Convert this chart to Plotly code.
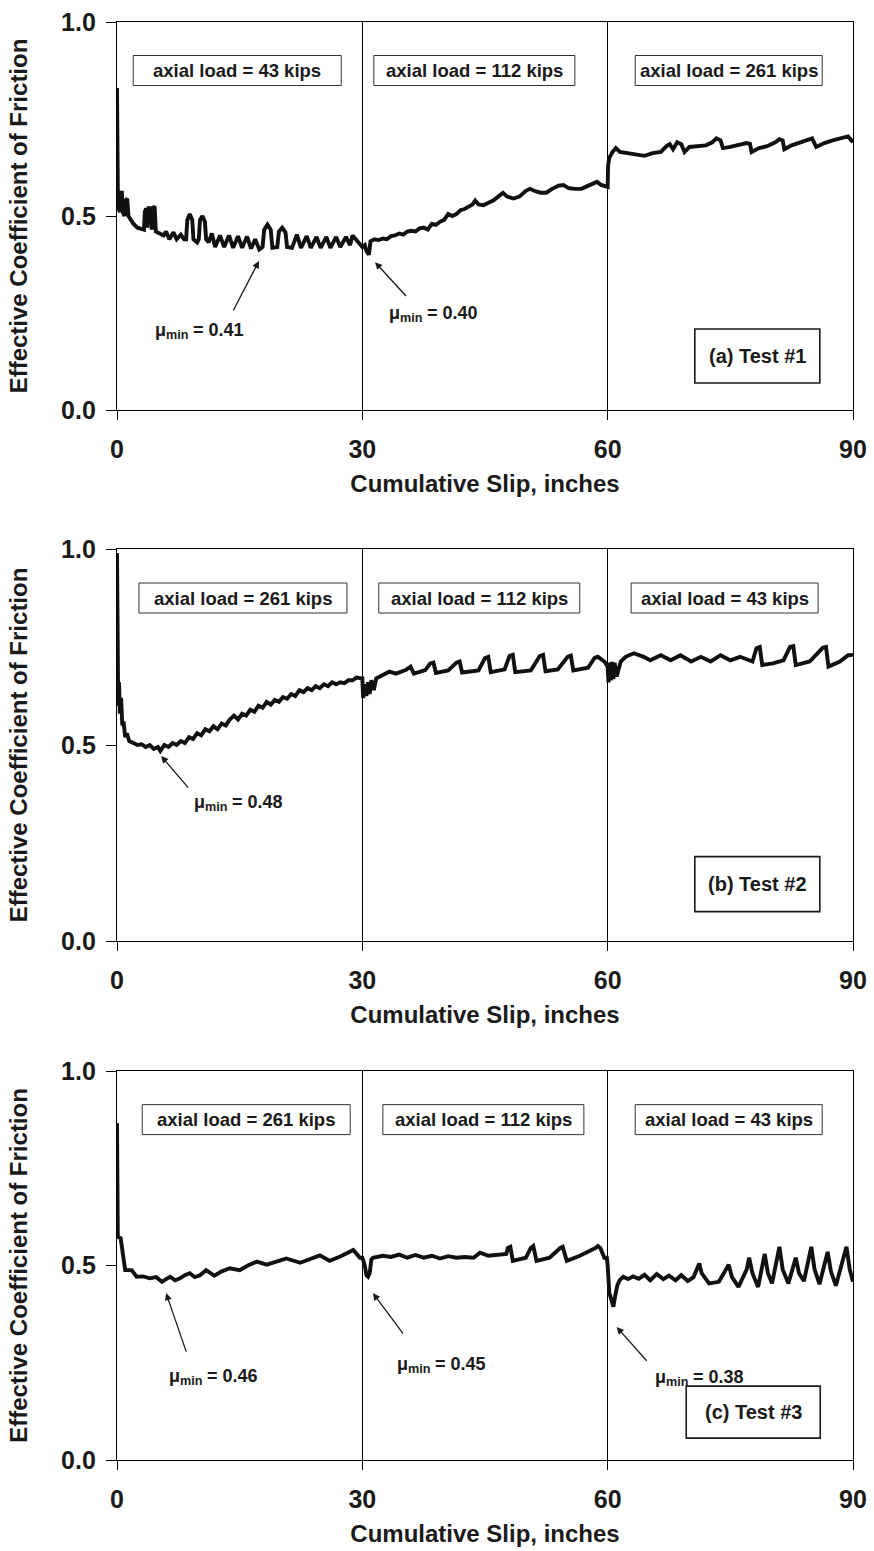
import plotly.graph_objects as go

# ---------------- data ----------------
x_ticks = [0, 30, 60, 90]
x_tick_labels = ["0", "30", "60", "90"]
y_ticks = [0.0, 0.5, 1.0]
y_tick_labels = ["0.0", "0.5", "1.0"]
x_title = "Cumulative Slip, inches"
y_title = "Effective Coefficient of Friction"

# Test #1
t1_x = [0.00, 0.03, 0.10, 0.20, 0.35, 0.45, 0.60, 0.70, 0.90, 1.05, 1.25, 1.40, 1.70, 2.00, 2.50,
        3.00, 3.30, 3.40, 3.55, 3.70, 3.85, 4.10, 4.25, 4.40, 4.60, 4.75, 5.20, 5.70, 6.00, 6.40,
        6.90, 7.30, 7.80, 8.20, 8.45, 8.60, 8.90, 9.20, 9.35, 9.80, 10.00, 10.15, 10.45, 10.75,
        10.90, 11.20, 11.60, 12.00, 12.60, 13.10, 13.70, 14.20, 14.80, 15.30, 15.90, 16.40, 16.90,
        17.40, 17.80, 18.00, 18.40, 18.80, 19.00, 19.60, 19.80, 20.20, 20.60, 20.80, 21.40, 22.00,
        22.50, 23.20, 23.70, 24.40, 24.90, 25.60, 26.10, 26.80, 27.30, 28.00, 28.50, 28.80, 29.20,
        29.60, 30.00, 30.30, 30.50, 30.80, 31.00, 31.50, 32.00, 32.50, 33.00, 33.50, 34.00, 34.50,
        35.00, 35.50, 36.00, 36.50, 37.00, 37.50, 38.00, 38.50, 39.00, 39.50, 40.00, 40.50, 41.00,
        41.50, 42.00, 42.50, 43.00, 43.50, 43.80, 44.20, 44.80, 45.50, 46.00, 46.50, 47.20, 47.70,
        48.50, 49.20, 50.00, 50.50, 51.00, 51.80, 52.50, 53.20, 54.00, 54.60, 55.20, 56.00, 56.80,
        57.50, 58.20, 58.70, 59.20, 59.90, 60.00, 60.05, 60.20, 60.60, 61.00, 61.50, 62.50, 63.50,
        64.50, 65.50, 66.50, 67.20, 67.60, 68.00, 68.50, 69.00, 69.40, 70.00, 71.00, 72.00, 72.80,
        73.30, 73.80, 74.10, 75.00, 76.00, 77.00, 77.40, 77.60, 78.50, 79.50, 80.50, 81.00, 81.40,
        81.60, 82.50, 83.50, 84.50, 85.00, 85.50, 86.50, 87.50, 88.50, 89.40, 90.00]
t1_y = [0.83, 0.68, 0.57, 0.52, 0.51, 0.56, 0.56, 0.51, 0.50, 0.54, 0.545, 0.50, 0.49, 0.48, 0.47,
        0.468, 0.465, 0.51, 0.52, 0.47, 0.52, 0.52, 0.465, 0.52, 0.525, 0.46, 0.455, 0.45, 0.46, 0.44,
        0.458, 0.44, 0.452, 0.44, 0.44, 0.49, 0.505, 0.49, 0.44, 0.432, 0.44, 0.49, 0.50, 0.485,
        0.44, 0.432, 0.455, 0.42, 0.45, 0.42, 0.45, 0.418, 0.448, 0.418, 0.447, 0.416, 0.44,
        0.414, 0.42, 0.465, 0.478, 0.465, 0.418, 0.42, 0.46, 0.47, 0.458, 0.42, 0.418, 0.452,
        0.418, 0.448, 0.418, 0.446, 0.418, 0.446, 0.418, 0.446, 0.42, 0.446, 0.425, 0.45, 0.44,
        0.43, 0.42, 0.425, 0.41, 0.40, 0.435, 0.44, 0.438, 0.442, 0.44, 0.448, 0.45, 0.455,
        0.452, 0.46, 0.462, 0.46, 0.468, 0.47, 0.465, 0.48, 0.477, 0.485, 0.49, 0.505, 0.50,
        0.505, 0.515, 0.518, 0.525, 0.53, 0.54, 0.53, 0.528, 0.535, 0.54, 0.548, 0.56, 0.55,
        0.545, 0.55, 0.565, 0.57, 0.565, 0.56, 0.56, 0.57, 0.578, 0.58, 0.572, 0.57, 0.57,
        0.577, 0.585, 0.588, 0.58, 0.575, 0.575, 0.63, 0.65, 0.665, 0.675, 0.665, 0.662, 0.66,
        0.655, 0.662, 0.665, 0.68, 0.685, 0.672, 0.69, 0.685, 0.665, 0.678, 0.68, 0.682, 0.69,
        0.70, 0.695, 0.675, 0.678, 0.682, 0.688, 0.686, 0.665, 0.675, 0.68, 0.69, 0.698, 0.695,
        0.672, 0.682, 0.69, 0.698, 0.70, 0.678, 0.688, 0.695, 0.70, 0.705, 0.69]

# Test #2
t2_x = [0.00, 0.05, 0.10, 0.15, 0.25, 0.35, 0.50, 0.65, 0.80, 1.00, 1.20, 1.50, 2.00, 2.50, 3.00,
        3.50, 4.00, 4.50, 5.00, 5.30, 5.80, 6.30, 6.80, 7.30, 7.80, 8.30, 8.80, 9.30, 9.80, 10.30,
        10.80, 11.30, 11.80, 12.30, 12.80, 13.30, 13.80, 14.30, 14.80, 15.30, 15.80, 16.30, 16.80,
        17.30, 17.80, 18.30, 18.80, 19.30, 19.80, 20.30, 20.80, 21.30, 21.80, 22.30, 22.80, 23.30,
        23.80, 24.30, 24.80, 25.30, 25.80, 26.30, 26.80, 27.30, 27.80, 28.30, 28.80, 29.30, 29.90,
        30.00, 30.10, 30.30, 30.50, 30.70, 30.90, 31.10, 31.40, 31.70, 32.10, 32.70, 33.30, 34.10,
        35.30, 35.90, 36.30, 37.70, 38.30, 38.70, 39.00, 40.50, 41.50, 41.90, 42.20, 44.20, 45.00,
        45.40, 45.70, 47.40, 48.00, 48.40, 48.70, 50.60, 51.70, 52.10, 52.40, 53.90, 55.10, 55.50,
        55.80, 57.60, 58.40, 58.80, 59.60, 60.00, 60.10, 60.25, 60.40, 60.55, 60.70, 60.85, 61.10,
        61.60, 62.20, 63.20, 64.40, 65.20, 66.50, 67.70, 68.90, 70.20, 71.40, 72.60, 73.80, 75.00,
        76.20, 77.70, 78.20, 78.60, 78.90, 80.20, 81.50, 82.30, 82.70, 83.00, 84.70, 86.30, 86.70,
        87.00, 88.40, 89.40, 90.00]
t2_y = [0.99, 0.80, 0.64, 0.60, 0.66, 0.58, 0.62, 0.55, 0.56, 0.52, 0.53, 0.51, 0.505, 0.50, 0.502,
        0.495, 0.50, 0.49, 0.495, 0.485, 0.50, 0.495, 0.505, 0.50, 0.51, 0.505, 0.52, 0.515, 0.53, 0.525,
        0.54, 0.535, 0.548, 0.54, 0.555, 0.55, 0.565, 0.575, 0.565, 0.58, 0.575, 0.59, 0.585,
        0.60, 0.595, 0.61, 0.603, 0.615, 0.61, 0.622, 0.618, 0.63, 0.625, 0.64, 0.635, 0.645,
        0.64, 0.65, 0.645, 0.655, 0.65, 0.66, 0.655, 0.66, 0.658, 0.665, 0.665, 0.672, 0.67,
        0.67, 0.62, 0.655, 0.625, 0.66, 0.63, 0.665, 0.64, 0.67, 0.674, 0.68, 0.687, 0.682,
        0.691, 0.70, 0.682, 0.691, 0.708, 0.71, 0.684, 0.69, 0.71, 0.713, 0.685, 0.69, 0.722,
        0.725, 0.686, 0.693, 0.727, 0.73, 0.686, 0.69, 0.727, 0.73, 0.688, 0.693, 0.725, 0.728,
        0.69, 0.697, 0.722, 0.725, 0.713, 0.70, 0.66, 0.71, 0.665, 0.712, 0.668, 0.71, 0.675,
        0.713, 0.725, 0.734, 0.725, 0.716, 0.729, 0.716, 0.729, 0.713, 0.725, 0.713, 0.729, 0.716,
        0.725, 0.713, 0.747, 0.75, 0.704, 0.708, 0.716, 0.75, 0.752, 0.704, 0.713, 0.748, 0.75,
        0.70, 0.713, 0.729, 0.73]

# Test #3
t3_x = [0.00, 0.05, 0.10, 0.45, 0.77, 1.00, 1.80, 2.40, 3.20, 4.00, 4.80, 5.50, 6.00, 6.50, 7.10,
        7.70, 8.30, 8.90, 9.50, 10.10, 10.90, 11.90, 12.80, 13.80, 15.00, 16.00, 17.10, 18.30, 19.50,
        20.70, 22.40, 24.00, 24.80, 26.00, 27.30, 28.90, 29.70, 30.00, 30.30, 30.50, 30.70, 30.90,
        31.10, 31.30, 32.50, 33.50, 34.50, 35.50, 36.50, 37.50, 38.50, 39.50, 40.50, 41.50, 42.50,
        43.60, 44.40, 45.40, 46.40, 47.60, 47.80, 48.10, 48.40, 49.50, 50.00, 50.60, 50.90, 51.30,
        52.90, 54.20, 54.50, 55.00, 56.60, 58.50, 58.80, 59.10, 59.60, 59.90, 60.00, 60.20, 60.50,
        60.70, 60.90, 61.20, 61.50, 61.90, 62.50, 63.10, 63.80, 64.50, 65.20, 66.00, 66.80, 67.50,
        68.30, 69.00, 69.80, 70.50, 71.20, 71.50, 72.40, 73.60, 74.80, 75.20, 76.00, 77.00, 77.30,
        77.70, 78.40, 79.20, 79.60, 80.10, 81.00, 81.40, 82.10, 83.00, 83.40, 84.00, 84.90, 85.30,
        85.90, 86.90, 87.30, 87.90, 89.20, 89.60, 90.00]
t3_y = [0.866, 0.70, 0.574, 0.57, 0.514, 0.488, 0.488, 0.471, 0.472, 0.467, 0.47, 0.458, 0.465, 0.471,
        0.462, 0.467, 0.475, 0.48, 0.47, 0.474, 0.488, 0.474, 0.485, 0.493, 0.488, 0.50, 0.51, 0.502,
        0.51, 0.518, 0.507, 0.52, 0.526, 0.512, 0.523, 0.54, 0.52, 0.52, 0.50, 0.475, 0.471, 0.48,
        0.515, 0.52, 0.525, 0.522, 0.528, 0.52, 0.527, 0.52, 0.525, 0.518, 0.524, 0.52, 0.522,
        0.52, 0.533, 0.525, 0.528, 0.53, 0.545, 0.548, 0.512, 0.518, 0.52, 0.545, 0.55, 0.512,
        0.52, 0.545, 0.548, 0.512, 0.525, 0.545, 0.55, 0.545, 0.52, 0.52, 0.50, 0.43, 0.411,
        0.394, 0.42, 0.45, 0.463, 0.471, 0.465, 0.472, 0.466, 0.476, 0.462, 0.478, 0.465, 0.474,
        0.462, 0.475, 0.46, 0.47, 0.505, 0.48, 0.454, 0.458, 0.502, 0.47, 0.445, 0.49, 0.52,
        0.48, 0.445, 0.53, 0.48, 0.454, 0.548, 0.49, 0.454, 0.52, 0.48, 0.46, 0.548, 0.49,
        0.452, 0.535, 0.485, 0.448, 0.548, 0.49, 0.458]

load_labels = [["axial load = 43 kips", "axial load = 112 kips", "axial load = 261 kips"],
               ["axial load = 261 kips", "axial load = 112 kips", "axial load = 43 kips"],
               ["axial load = 261 kips", "axial load = 112 kips", "axial load = 43 kips"]]
test_labels = ["(a) Test #1", "(b) Test #2", "(c) Test #3"]
mu_min_values = [["0.41", "0.40"], ["0.48"], ["0.46", "0.45", "0.38"]]

# ---------------- figure ----------------
FONT = "Liberation Sans, Arial, sans-serif"
INK = "#1a1a1a"
TICKFONT = dict(family="Liberation Sans Narrow, Arial Narrow, Liberation Sans, Arial", size=25,
                color=INK, weight="bold")
TITLEFONT = dict(family=FONT, size=24, color=INK, weight="bold")

W, H = 874, 1551
mt, mb, ml, mr = 22, 91, 117, 21
ph = H - mt - mb
PW = W - ml - mr                      # plot width in px
PXU = PW / 90.0                       # px per x unit
def dom(top_px, bot_px):
    return [(H - mb - bot_px) / ph, (H - mb - top_px) / ph]

panel_px = [(22, 410), (549, 941), (1071, 1460)]
panels = [dom(a, b) for a, b in panel_px]
series = [(t1_x, t1_y), (t2_x, t2_y), (t3_x, t3_y)]

fig = go.Figure()
layout = dict(width=W, height=H, margin=dict(l=ml, r=mr, t=mt, b=mb, pad=0),
              paper_bgcolor="white", plot_bgcolor="white", showlegend=False,
              font=dict(family=FONT, color=INK))

for i, ((xs, ys), d) in enumerate(zip(series, panels)):
    n = "" if i == 0 else str(i + 1)
    fig.add_trace(go.Scatter(x=xs, y=ys, mode="lines",
                             line=dict(color="#111111", width=3.9),
                             xaxis="x" + n, yaxis="y" + n, hoverinfo="skip"))
    layout["xaxis" + n] = dict(
        domain=[0, 1], anchor="y" + n, range=[0, 90], tickvals=x_ticks, ticktext=x_tick_labels,
        showline=True, mirror=True, linecolor="black", linewidth=1.3,
        ticks="outside", ticklen=9, tickwidth=1.3, tickcolor="black",
        showgrid=True, gridcolor="black", gridwidth=1.2, zeroline=False,
        tickfont=TICKFONT, ticklabelstandoff=8, automargin=False,
        title=dict(text=x_title, font=TITLEFONT, standoff=13))
    layout["yaxis" + n] = dict(
        domain=d, anchor="x" + n, range=[0, 1], tickvals=y_ticks, ticktext=y_tick_labels,
        showline=True, mirror=True, linecolor="black", linewidth=1.3,
        ticks="outside", ticklen=10, tickwidth=1.3, tickcolor="black",
        showgrid=False, zeroline=False, tickfont=TICKFONT, ticklabelstandoff=5, automargin=False,
        title=dict(text=y_title, font=TITLEFONT, standoff=26))

annotations = []
shapes = []
# load boxes (rectangles as shapes, text as plain annotations)
box_x = [[14.7, 43.7, 74.8], [15.4, 44.3, 74.3], [15.8, 44.8, 74.8]]
box_wpx = [208, 201, 187]
box_hpx = 30
box_yc = 0.875
for i in range(3):
    n = "" if i == 0 else str(i + 1)
    hpx = panel_px[i][1] - panel_px[i][0]
    for j in range(3):
        hw = box_wpx[j] / 2 / PXU
        hh = box_hpx / 2 / hpx
        shapes.append(dict(type="rect", xref="x" + n, yref="y" + n,
                           x0=box_x[i][j] - hw, x1=box_x[i][j] + hw,
                           y0=box_yc - hh, y1=box_yc + hh,
                           line=dict(color="#333333", width=1), fillcolor="white", layer="above"))
        annotations.append(dict(x=box_x[i][j], y=box_yc, xref="x" + n, yref="y" + n,
                                text=load_labels[i][j], showarrow=False,
                                font=dict(family=FONT, size=18.5, color=INK, weight="bold")))
# test label boxes
tl_pos = [(78.3, 0.139, 125, 54), (78.3, 0.145, 125, 55), (77.8, 0.123, 134, 52)]
for i in range(3):
    n = "" if i == 0 else str(i + 1)
    hpx = panel_px[i][1] - panel_px[i][0]
    cx, cy, wpx, hbx = tl_pos[i]
    shapes.append(dict(type="rect", xref="x" + n, yref="y" + n,
                       x0=cx - wpx / 2 / PXU, x1=cx + wpx / 2 / PXU,
                       y0=cy - hbx / 2 / hpx, y1=cy + hbx / 2 / hpx,
                       line=dict(color=INK, width=1.6), fillcolor="white", layer="above"))
    annotations.append(dict(x=cx, y=cy, xref="x" + n, yref="y" + n,
                            text=test_labels[i], showarrow=False,
                            font=dict(family=FONT, size=20, color=INK, weight="bold")))

# mu_min arrows: (tip x, tip y, tail dx px, tail dy px) and label (left x, centre y)
mu_arrow = [[(17.36, 0.384, -27, 52), (31.55, 0.381, 33, 36)],
            [(5.4, 0.472, 29, 34)],
            [(6.0, 0.429, 21, 61), (31.3, 0.429, 32, 43), (61.1, 0.342, 32, 36)]]
mu_label = [[(4.40, 0.206), (33.0, 0.25)],
            [(9.17, 0.355)],
            [(6.11, 0.216), (34.0, 0.247), (65.5, 0.213)]]
MUFONT = dict(family=FONT, size=18, color=INK, weight="bold")
SUBFONT = dict(family=FONT, size=12.6, color=INK, weight="bold")
for i in range(3):
    n = "" if i == 0 else str(i + 1)
    for (tx, ty, dx, dy), (lx, ly), v in zip(mu_arrow[i], mu_label[i], mu_min_values[i]):
        # arrow: short invisible dot as text so the arrow has a tail anchor
        annotations.append(dict(x=tx, y=ty, xref="x" + n, yref="y" + n, text=" ",
                                showarrow=True, arrowhead=2, arrowsize=1.1, arrowwidth=1.3,
                                arrowcolor=INK, ax=dx, ay=dy, standoff=0,
                                font=dict(size=2, color="rgba(0,0,0,0)")))
        common = dict(x=lx, y=ly, xref="x" + n, yref="y" + n, showarrow=False,
                      xanchor="left", yanchor="middle")
        annotations.append(dict(text="μ", font=MUFONT, xshift=0, **common))
        annotations.append(dict(text="min", font=SUBFONT, xshift=11, yshift=-5, **common))
        annotations.append(dict(text="= " + v, font=MUFONT, xshift=38, **common))

layout["annotations"] = annotations
layout["shapes"] = shapes
fig.update_layout(**layout)
fig.write_html("out.html")
